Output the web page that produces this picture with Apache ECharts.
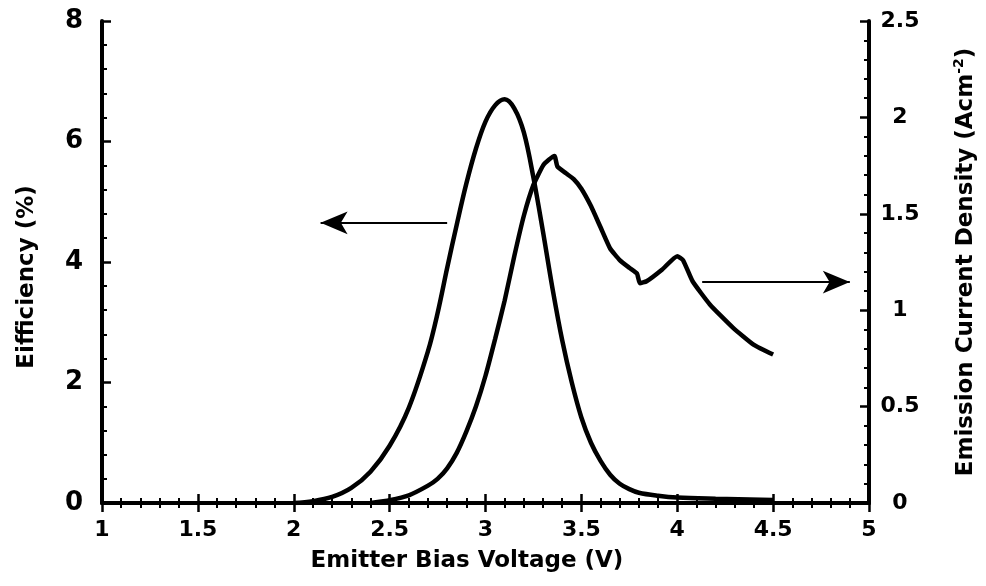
<!DOCTYPE html>
<html>
<head>
<meta charset="utf-8">
<script src="https://cdn.jsdelivr.net/npm/echarts@6/dist/echarts.min.js"></script>
<style>html,body{margin:0;padding:0;background:#fff}#c{width:986px;height:586px}</style>
</head>
<body>
<div id="c"></div>
<script>
// Efficiency (%) vs emitter bias voltage (V)
const effV = [2.00,2.10,2.20,2.30,2.40,2.50,2.60,2.70,2.75,2.80,2.85,2.90,2.95,3.00,3.05,3.10,3.15,3.20,3.25,3.30,3.35,3.40,3.45,3.50,3.55,3.60,3.65,3.70,3.75,3.80,3.90,4.00,4.20,4.50];
const effY = [0.00,0.03,0.10,0.25,0.52,0.95,1.58,2.52,3.15,3.90,4.62,5.30,5.88,6.33,6.60,6.70,6.55,6.15,5.40,4.50,3.55,2.70,2.00,1.42,1.00,0.70,0.47,0.32,0.23,0.17,0.12,0.09,0.07,0.05];
// Emission current density (A/cm^2) vs emitter bias voltage (V)
const curV = [2.40,2.50,2.60,2.70,2.75,2.80,2.85,2.90,2.95,3.00,3.05,3.10,3.15,3.20,3.25,3.30,3.33,3.36,3.375,3.42,3.46,3.50,3.55,3.60,3.65,3.70,3.75,3.79,3.805,3.84,3.92,4.00,4.03,4.08,4.17,4.29,4.40,4.50];
const curY = [0.00,0.015,0.04,0.09,0.125,0.18,0.26,0.37,0.50,0.66,0.85,1.05,1.28,1.49,1.65,1.75,1.78,1.80,1.745,1.71,1.68,1.63,1.54,1.43,1.32,1.26,1.22,1.19,1.14,1.15,1.21,1.28,1.26,1.15,1.03,0.91,0.82,0.77];
// Annotation arrows: [startV, endV, level]
const leftArrow = [2.80, 2.14, 4.65];   // on efficiency axis
const rightArrow = [4.13, 4.90, 1.146]; // on current density axis
// Axis ticks
const xTicks = {min: 1, max: 5, interval: 0.5};
const yLeftTicks = {min: 0, max: 8, interval: 2};
const yRightTicks = {min: 0, max: 2.5, interval: 0.5};

const FONT = 'DejaVu Sans';
const effData = effV.map((v, i) => [v, effY[i]]);
const curData = curV.map((v, i) => [v, curY[i]]);
const lbl = (sz) => ({color: '#000', fontFamily: FONT, fontWeight: 'bold', fontSize: sz});
const axLine = {show: true, lineStyle: {color: '#000', width: 4}};
const tick = {show: true, inside: true, length: 9, lineStyle: {color: '#000', width: 2.5}};
const minor = {show: true, splitNumber: 5, length: 5, lineStyle: {color: '#000', width: 2}};

const chart = echarts.init(document.getElementById('c'), null, {renderer: 'canvas'});
chart.setOption({
  animation: false,
  backgroundColor: '#fff',
  grid: {left: 102, right: 117, top: 21, bottom: 83},
  xAxis: [
    {type: 'value', position: 'bottom', min: xTicks.min, max: xTicks.max, interval: xTicks.interval,
     axisLine: axLine, axisTick: tick, minorTick: minor, splitLine: {show: false},
     axisLabel: Object.assign({margin: 16}, lbl(22))},
    {type: 'value', position: 'top', min: xTicks.min, max: xTicks.max, interval: xTicks.interval,
     axisLine: axLine, axisTick: tick, minorTick: minor, splitLine: {show: false},
     axisLabel: {show: false}}
  ],
  yAxis: [
    {type: 'value', position: 'left', min: yLeftTicks.min, max: yLeftTicks.max, interval: yLeftTicks.interval,
     axisLine: axLine, axisTick: tick, minorTick: minor, splitLine: {show: false},
     axisLabel: Object.assign({margin: 19}, lbl(26))},
    {type: 'value', position: 'right', min: yRightTicks.min, max: yRightTicks.max, interval: yRightTicks.interval,
     axisLine: axLine, axisTick: tick, minorTick: minor, splitLine: {show: false},
     axisLabel: Object.assign({margin: 31, align: 'center'}, lbl(22))}
  ],
  series: [
    {type: 'line', name: 'Efficiency', xAxisIndex: 0, yAxisIndex: 0, data: effData,
     showSymbol: false, smooth: 0.35, lineStyle: {color: '#000', width: 4.5},
     markLine: {silent: true, symbol: ['none', 'arrow'], symbolSize: [17, 27], label: {show: false},
       lineStyle: {color: '#000', width: 2, type: 'solid'},
       data: [[{coord: [leftArrow[0], leftArrow[2]]}, {coord: [leftArrow[1], leftArrow[2]]}]]}},
    {type: 'line', name: 'Emission Current Density', xAxisIndex: 0, yAxisIndex: 1, data: curData,
     showSymbol: false, smooth: 0.15, lineStyle: {color: '#000', width: 4.5},
     markLine: {silent: true, symbol: ['none', 'arrow'], symbolSize: [17, 27], label: {show: false},
       lineStyle: {color: '#000', width: 2, type: 'solid'},
       data: [[{coord: [rightArrow[0], rightArrow[2]]}, {coord: [rightArrow[1], rightArrow[2]]}]]}}
  ],
  graphic: [
    {type: 'text', x: 467, y: 561, silent: true,
     style: {text: 'Emitter Bias Voltage (V)', align: 'center', verticalAlign: 'middle',
             font: 'bold 23px "' + FONT + '"', fill: '#000'}},
    {type: 'text', x: 27, y: 277, rotation: Math.PI / 2, silent: true,
     style: {text: 'Eifficiency (%)', align: 'center', verticalAlign: 'middle',
             font: 'bold 23px "' + FONT + '"', fill: '#000'}},
    {type: 'text', x: 966, y: 262, rotation: Math.PI / 2, silent: true,
     style: {text: 'Emission Current Density (Acm{sup|-2})', align: 'center', verticalAlign: 'middle',
             font: 'bold 23px "' + FONT + '"', fill: '#000',
             rich: {sup: {fontFamily: FONT, fontWeight: 'bold', fontSize: 14, fill: '#000', verticalAlign: 'top', lineHeight: 28}}}}
  ]
});
</script>
</body>
</html>
